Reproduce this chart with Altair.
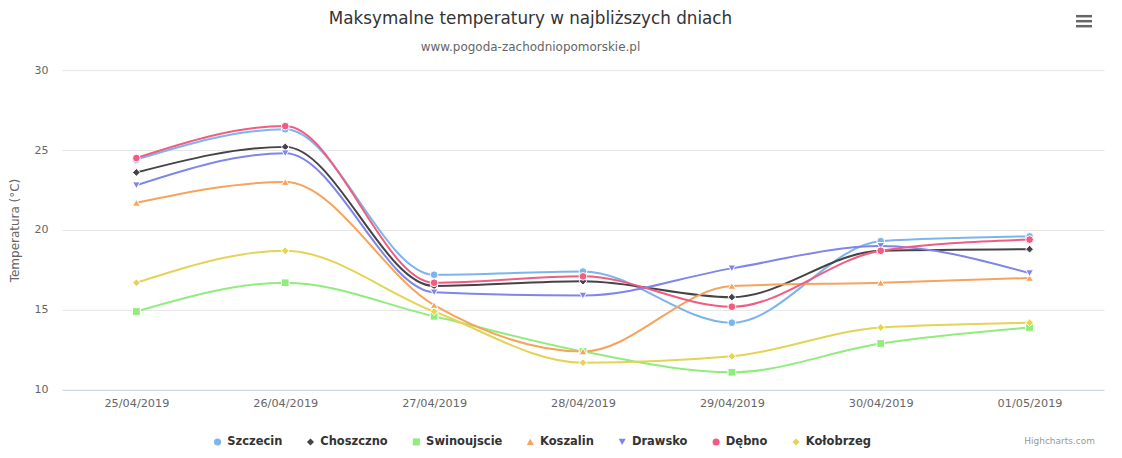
import altair as alt
import pandas as pd

dates = ["25/04/2019", "26/04/2019", "27/04/2019", "28/04/2019", "29/04/2019", "30/04/2019", "01/05/2019"]
series_names = ["Szczecin", "Choszczno", "Swinoujscie", "Koszalin", "Drawsko", "Dębno", "Kołobrzeg"]
szczecin = [24.4, 26.3, 17.2, 17.4, 14.2, 19.3, 19.6]
choszczno = [23.6, 25.2, 16.5, 16.8, 15.8, 18.7, 18.8]
swinoujscie = [14.9, 16.7, 14.6, 12.4, 11.1, 12.9, 13.9]
koszalin = [21.7, 23.0, 15.3, 12.4, 16.5, 16.7, 17.0]
drawsko = [22.8, 24.8, 16.1, 15.9, 17.6, 19.0, 17.3]
debno = [24.5, 26.5, 16.7, 17.1, 15.2, 18.7, 19.4]
kolobrzeg = [16.7, 18.7, 14.9, 11.7, 12.1, 13.9, 14.2]
colors = ["#7cb5ec", "#434348", "#90ed7d", "#f7a35c", "#8085e9", "#f15c80", "#e4d354"]
shapes = ["circle", "diamond", "square", "triangle-up", "triangle-down", "circle", "diamond"]

title_text = "Maksymalne temperatury w najbliższych dniach"
subtitle_text = "www.pogoda-zachodniopomorskie.pl"
credit_text = "Highcharts.com"

values = [szczecin, choszczno, swinoujscie, koszalin, drawsko, debno, kolobrzeg]
rows = []
for si, (name, vals) in enumerate(zip(series_names, values)):
    for d, v in zip(dates, vals):
        rows.append({"Data": d, "Miasto": name, "Temp": v, "order": si})
df = pd.DataFrame(rows)

FONT = "DejaVu Sans"

x_enc = alt.X("Data:N", sort=dates,
              scale=alt.Scale(type="point", padding=0.5),
              axis=alt.Axis(title=None, labelAngle=0, labelFontSize=11.3, labelColor="#666666",
                            labelFont=FONT, domainColor="#ccd6eb", domainWidth=1, ticks=False,
                            grid=False, labelPadding=8))
y_enc = alt.Y("Temp:Q", scale=alt.Scale(domain=[10, 30], nice=False, zero=False),
              axis=alt.Axis(title="Temperatura (°C)", values=[10, 15, 20, 25, 30],
                            labelFontSize=11, labelColor="#666666", labelFont=FONT,
                            titleFont=FONT, titleFontSize=12, titleColor="#666666",
                            titleFontWeight="normal", titlePadding=12,
                            domain=False, ticks=False, gridColor="#e6e6e6", gridWidth=1,
                            labelPadding=14))
legend = alt.Legend(title=None, orient="none", direction="horizontal",
                    legendX=150, legendY=366,
                    labelFont=FONT, labelFontSize=11.5, labelFontWeight="bold",
                    labelColor="#333333", symbolSize=50, columnPadding=22,
                    symbolStrokeWidth=0)
color_enc = alt.Color("Miasto:N", sort=series_names,
                      scale=alt.Scale(domain=series_names, range=colors), legend=legend)
shape_enc = alt.Shape("Miasto:N", sort=series_names,
                      scale=alt.Scale(domain=series_names, range=shapes), legend=legend)

base = alt.Chart(df)
lines = base.mark_line(interpolate="monotone", strokeWidth=2).encode(
    x=x_enc, y=y_enc, color=color_enc, detail="Miasto:N")
points = base.mark_point(filled=True, size=60, opacity=1, stroke="white", strokeWidth=1).encode(
    x=alt.X("Data:N", sort=dates), y="Temp:Q",
    color=color_enc, shape=shape_enc)

def text_layer(txt, size, color, x, y, align="center", weight="normal"):
    return alt.Chart(pd.DataFrame({"t": [txt]})).mark_text(
        align=align, baseline="middle", fontSize=size, color=color, font=FONT, fontWeight=weight
    ).encode(text="t:N", x=alt.value(x), y=alt.value(y))

title = text_layer(title_text, 16.8, "#333333", 469, -51.5)
subtitle = text_layer(subtitle_text, 12, "#666666", 469, -23)
credit = text_layer(credit_text, 9, "#999999", 1034, 371, align="right")

menu_layers = []
for yy in [-54, -49, -44]:
    menu_layers.append(
        alt.Chart(pd.DataFrame({"k": [0]})).mark_rule(color="#666666", strokeWidth=2.5).encode(
            x=alt.value(1015), x2=alt.value(1031), y=alt.value(yy)))

chart = alt.layer(lines, points, title, subtitle, credit, *menu_layers).properties(
    width=1043, height=320,
    autosize=alt.AutoSizeParams(type="none"),
    padding={"left": 54, "top": 62, "right": 10, "bottom": 60},
).configure_view(stroke=None)

chart.save("out.html", embed_options={"renderer": "svg", "actions": False})
